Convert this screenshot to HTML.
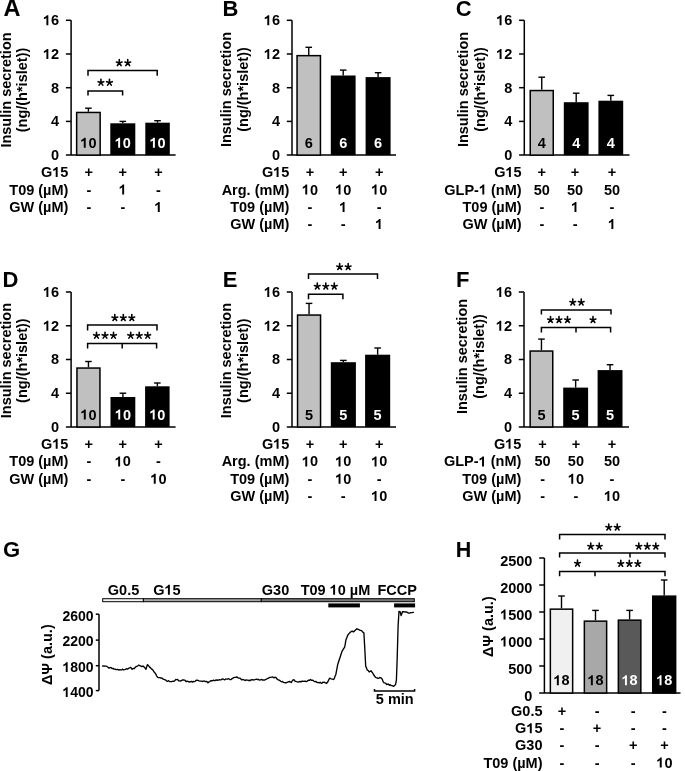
<!DOCTYPE html>
<html><head><meta charset="utf-8"><style>
html,body{margin:0;padding:0;background:#fff;}
svg{display:block;}
text{font-family:"Liberation Sans", sans-serif;font-weight:bold;font-kerning:none;white-space:pre;}
svg{-webkit-font-smoothing:antialiased;will-change:transform;}
</style></head><body>
<svg width="685" height="771" viewBox="0 0 685 771">
<rect x="0" y="0" width="685" height="771" fill="#fff"/>
<text x="3.40" y="16.00" font-size="23.5" text-anchor="start" fill="#000">A</text>
<text x="0.00" y="0.00" font-size="14.5" text-anchor="middle" fill="#000" transform="translate(11.00,90.00) rotate(-90)">Insulin secretion</text>
<text x="0.00" y="0.00" font-size="14.5" text-anchor="middle" fill="#000" transform="translate(26.80,90.00) rotate(-90)">(ng/(h*islet))</text>
<path d="M71.10,20.30 V155.10" stroke="#000" stroke-width="1.5" fill="none"/>
<line x1="65.90" y1="20.30" x2="71.10" y2="20.30" stroke="#000" stroke-width="1.5"/>
<path d="M759 0H485V1030Q410 960 310 910Q210 860 129 834V1080Q240 1116 370 1219Q500 1322 548 1409H759Z" fill="#000" transform="translate(42.97,25.20) scale(0.00708,-0.00708)"/>
<text x="51.04" y="25.20" font-size="14.5" fill="#000">6</text>
<line x1="65.90" y1="54.00" x2="71.10" y2="54.00" stroke="#000" stroke-width="1.5"/>
<path d="M759 0H485V1030Q410 960 310 910Q210 860 129 834V1080Q240 1116 370 1219Q500 1322 548 1409H759Z" fill="#000" transform="translate(42.97,58.90) scale(0.00708,-0.00708)"/>
<text x="51.04" y="58.90" font-size="14.5" fill="#000">2</text>
<line x1="65.90" y1="87.70" x2="71.10" y2="87.70" stroke="#000" stroke-width="1.5"/>
<text x="59.10" y="92.60" font-size="14.5" text-anchor="end" fill="#000">8</text>
<line x1="65.90" y1="121.40" x2="71.10" y2="121.40" stroke="#000" stroke-width="1.5"/>
<text x="59.10" y="126.30" font-size="14.5" text-anchor="end" fill="#000">4</text>
<text x="59.10" y="160.00" font-size="14.5" text-anchor="end" fill="#000">0</text>
<line x1="65.90" y1="155.10" x2="175.60" y2="155.10" stroke="#000" stroke-width="1.5"/>
<line x1="88.40" y1="111.70" x2="88.40" y2="108.20" stroke="#000" stroke-width="1.4"/>
<line x1="85.10" y1="108.20" x2="91.70" y2="108.20" stroke="#000" stroke-width="1.4"/>
<rect x="76.65" y="112.45" width="23.50" height="42.65" fill="#c0c0c0" stroke="#000" stroke-width="1.5"/>
<path d="M759 0H485V1030Q410 960 310 910Q210 860 129 834V1080Q240 1116 370 1219Q500 1322 548 1409H759Z" fill="#000" transform="translate(80.34,147.70) scale(0.00708,-0.00708)"/>
<text x="88.40" y="147.70" font-size="14.5" fill="#000">0</text>
<line x1="122.80" y1="123.30" x2="122.80" y2="121.40" stroke="#000" stroke-width="1.4"/>
<line x1="119.50" y1="121.40" x2="126.10" y2="121.40" stroke="#000" stroke-width="1.4"/>
<rect x="110.30" y="123.30" width="25.00" height="31.80" fill="#000"/>
<path d="M759 0H485V1030Q410 960 310 910Q210 860 129 834V1080Q240 1116 370 1219Q500 1322 548 1409H759Z" fill="#fff" transform="translate(114.74,147.70) scale(0.00708,-0.00708)"/>
<text x="122.80" y="147.70" font-size="14.5" fill="#fff">0</text>
<line x1="157.55" y1="122.70" x2="157.55" y2="120.70" stroke="#000" stroke-width="1.4"/>
<line x1="154.25" y1="120.70" x2="160.85" y2="120.70" stroke="#000" stroke-width="1.4"/>
<rect x="145.30" y="122.70" width="24.50" height="32.40" fill="#000"/>
<path d="M759 0H485V1030Q410 960 310 910Q210 860 129 834V1080Q240 1116 370 1219Q500 1322 548 1409H759Z" fill="#fff" transform="translate(149.49,147.70) scale(0.00708,-0.00708)"/>
<text x="157.55" y="147.70" font-size="14.5" fill="#fff">0</text>
<text x="40.99" y="177.00" font-size="14.5" fill="#000">G</text>
<path d="M759 0H485V1030Q410 960 310 910Q210 860 129 834V1080Q240 1116 370 1219Q500 1322 548 1409H759Z" fill="#000" transform="translate(52.27,177.00) scale(0.00708,-0.00708)"/>
<text x="60.34" y="177.00" font-size="14.5" fill="#000">5</text>
<text x="88.80" y="177.00" font-size="14.5" text-anchor="middle" fill="#000">+</text>
<text x="122.80" y="177.00" font-size="14.5" text-anchor="middle" fill="#000">+</text>
<text x="158.40" y="177.00" font-size="14.5" text-anchor="middle" fill="#000">+</text>
<text x="68.40" y="194.60" font-size="14.5" text-anchor="end" fill="#000">T09 (µM)</text>
<text x="88.80" y="194.60" font-size="14.5" text-anchor="middle" fill="#000">-</text>
<path d="M759 0H485V1030Q410 960 310 910Q210 860 129 834V1080Q240 1116 370 1219Q500 1322 548 1409H759Z" fill="#000" transform="translate(118.77,194.60) scale(0.00708,-0.00708)"/>
<text x="158.40" y="194.60" font-size="14.5" text-anchor="middle" fill="#000">-</text>
<text x="68.40" y="211.90" font-size="14.5" text-anchor="end" fill="#000">GW (µM)</text>
<text x="88.80" y="211.90" font-size="14.5" text-anchor="middle" fill="#000">-</text>
<text x="122.80" y="211.90" font-size="14.5" text-anchor="middle" fill="#000">-</text>
<path d="M759 0H485V1030Q410 960 310 910Q210 860 129 834V1080Q240 1116 370 1219Q500 1322 548 1409H759Z" fill="#000" transform="translate(154.37,211.90) scale(0.00708,-0.00708)"/>
<path d="M88.00,95.50 V90.90 H122.60 V95.50" stroke="#000" stroke-width="1.5" fill="none"/>
<path d="M100.95,82.60L100.95,79.25M100.95,82.60L98.14,81.69M100.95,82.60L99.10,85.15M100.95,82.60L102.80,85.15M100.95,82.60L103.76,81.69M109.45,82.60L109.45,79.25M109.45,82.60L106.64,81.69M109.45,82.60L107.60,85.15M109.45,82.60L111.30,85.15M109.45,82.60L112.26,81.69" stroke="#000" stroke-width="1.6" stroke-linecap="round" fill="none"/>
<path d="M88.00,75.70 V70.50 H157.20 V75.70" stroke="#000" stroke-width="1.5" fill="none"/>
<path d="M119.25,63.00L119.25,59.65M119.25,63.00L116.44,62.09M119.25,63.00L117.40,65.55M119.25,63.00L121.10,65.55M119.25,63.00L122.06,62.09M127.75,63.00L127.75,59.65M127.75,63.00L124.94,62.09M127.75,63.00L125.90,65.55M127.75,63.00L129.60,65.55M127.75,63.00L130.56,62.09" stroke="#000" stroke-width="1.6" stroke-linecap="round" fill="none"/>
<text x="222.60" y="16.20" font-size="22.0" text-anchor="start" fill="#000">B</text>
<text x="0.00" y="0.00" font-size="14.5" text-anchor="middle" fill="#000" transform="translate(231.00,89.50) rotate(-90)">Insulin secretion</text>
<text x="0.00" y="0.00" font-size="14.5" text-anchor="middle" fill="#000" transform="translate(247.70,89.50) rotate(-90)">(ng/(h*islet))</text>
<path d="M292.00,20.30 V155.10" stroke="#000" stroke-width="1.5" fill="none"/>
<line x1="286.80" y1="20.30" x2="292.00" y2="20.30" stroke="#000" stroke-width="1.5"/>
<path d="M759 0H485V1030Q410 960 310 910Q210 860 129 834V1080Q240 1116 370 1219Q500 1322 548 1409H759Z" fill="#000" transform="translate(263.87,25.20) scale(0.00708,-0.00708)"/>
<text x="271.94" y="25.20" font-size="14.5" fill="#000">6</text>
<line x1="286.80" y1="54.00" x2="292.00" y2="54.00" stroke="#000" stroke-width="1.5"/>
<path d="M759 0H485V1030Q410 960 310 910Q210 860 129 834V1080Q240 1116 370 1219Q500 1322 548 1409H759Z" fill="#000" transform="translate(263.87,58.90) scale(0.00708,-0.00708)"/>
<text x="271.94" y="58.90" font-size="14.5" fill="#000">2</text>
<line x1="286.80" y1="87.70" x2="292.00" y2="87.70" stroke="#000" stroke-width="1.5"/>
<text x="280.00" y="92.60" font-size="14.5" text-anchor="end" fill="#000">8</text>
<line x1="286.80" y1="121.40" x2="292.00" y2="121.40" stroke="#000" stroke-width="1.5"/>
<text x="280.00" y="126.30" font-size="14.5" text-anchor="end" fill="#000">4</text>
<text x="280.00" y="160.00" font-size="14.5" text-anchor="end" fill="#000">0</text>
<line x1="286.80" y1="155.10" x2="396.00" y2="155.10" stroke="#000" stroke-width="1.5"/>
<line x1="308.75" y1="54.90" x2="308.75" y2="47.30" stroke="#000" stroke-width="1.4"/>
<line x1="305.45" y1="47.30" x2="312.05" y2="47.30" stroke="#000" stroke-width="1.4"/>
<rect x="297.05" y="55.65" width="23.40" height="99.45" fill="#c0c0c0" stroke="#000" stroke-width="1.5"/>
<text x="308.75" y="147.70" font-size="14.5" text-anchor="middle" fill="#000">6</text>
<line x1="343.20" y1="75.50" x2="343.20" y2="70.10" stroke="#000" stroke-width="1.4"/>
<line x1="339.90" y1="70.10" x2="346.50" y2="70.10" stroke="#000" stroke-width="1.4"/>
<rect x="330.80" y="75.50" width="24.80" height="79.60" fill="#000"/>
<text x="343.20" y="147.70" font-size="14.5" text-anchor="middle" fill="#fff">6</text>
<line x1="378.10" y1="77.10" x2="378.10" y2="72.70" stroke="#000" stroke-width="1.4"/>
<line x1="374.80" y1="72.70" x2="381.40" y2="72.70" stroke="#000" stroke-width="1.4"/>
<rect x="365.60" y="77.10" width="25.00" height="78.00" fill="#000"/>
<text x="378.10" y="147.70" font-size="14.5" text-anchor="middle" fill="#fff">6</text>
<text x="261.89" y="177.00" font-size="14.5" fill="#000">G</text>
<path d="M759 0H485V1030Q410 960 310 910Q210 860 129 834V1080Q240 1116 370 1219Q500 1322 548 1409H759Z" fill="#000" transform="translate(273.17,177.00) scale(0.00708,-0.00708)"/>
<text x="281.24" y="177.00" font-size="14.5" fill="#000">5</text>
<text x="309.90" y="177.00" font-size="14.5" text-anchor="middle" fill="#000">+</text>
<text x="343.20" y="177.00" font-size="14.5" text-anchor="middle" fill="#000">+</text>
<text x="379.20" y="177.00" font-size="14.5" text-anchor="middle" fill="#000">+</text>
<text x="289.30" y="194.60" font-size="14.5" text-anchor="end" fill="#000">Arg. (mM)</text>
<path d="M759 0H485V1030Q410 960 310 910Q210 860 129 834V1080Q240 1116 370 1219Q500 1322 548 1409H759Z" fill="#000" transform="translate(301.84,194.60) scale(0.00708,-0.00708)"/>
<text x="309.90" y="194.60" font-size="14.5" fill="#000">0</text>
<path d="M759 0H485V1030Q410 960 310 910Q210 860 129 834V1080Q240 1116 370 1219Q500 1322 548 1409H759Z" fill="#000" transform="translate(335.14,194.60) scale(0.00708,-0.00708)"/>
<text x="343.20" y="194.60" font-size="14.5" fill="#000">0</text>
<path d="M759 0H485V1030Q410 960 310 910Q210 860 129 834V1080Q240 1116 370 1219Q500 1322 548 1409H759Z" fill="#000" transform="translate(371.14,194.60) scale(0.00708,-0.00708)"/>
<text x="379.20" y="194.60" font-size="14.5" fill="#000">0</text>
<text x="289.30" y="211.90" font-size="14.5" text-anchor="end" fill="#000">T09 (µM)</text>
<text x="309.90" y="211.90" font-size="14.5" text-anchor="middle" fill="#000">-</text>
<path d="M759 0H485V1030Q410 960 310 910Q210 860 129 834V1080Q240 1116 370 1219Q500 1322 548 1409H759Z" fill="#000" transform="translate(339.17,211.90) scale(0.00708,-0.00708)"/>
<text x="379.20" y="211.90" font-size="14.5" text-anchor="middle" fill="#000">-</text>
<text x="289.30" y="229.10" font-size="14.5" text-anchor="end" fill="#000">GW (µM)</text>
<text x="309.90" y="229.10" font-size="14.5" text-anchor="middle" fill="#000">-</text>
<text x="343.20" y="229.10" font-size="14.5" text-anchor="middle" fill="#000">-</text>
<path d="M759 0H485V1030Q410 960 310 910Q210 860 129 834V1080Q240 1116 370 1219Q500 1322 548 1409H759Z" fill="#000" transform="translate(375.17,229.10) scale(0.00708,-0.00708)"/>
<text x="455.80" y="16.00" font-size="22.0" text-anchor="start" fill="#000">C</text>
<text x="0.00" y="0.00" font-size="14.5" text-anchor="middle" fill="#000" transform="translate(467.70,89.50) rotate(-90)">Insulin secretion</text>
<text x="0.00" y="0.00" font-size="14.5" text-anchor="middle" fill="#000" transform="translate(485.10,89.50) rotate(-90)">(ng/(h*islet))</text>
<path d="M524.30,20.30 V155.10" stroke="#000" stroke-width="1.5" fill="none"/>
<line x1="519.10" y1="20.30" x2="524.30" y2="20.30" stroke="#000" stroke-width="1.5"/>
<path d="M759 0H485V1030Q410 960 310 910Q210 860 129 834V1080Q240 1116 370 1219Q500 1322 548 1409H759Z" fill="#000" transform="translate(496.17,25.20) scale(0.00708,-0.00708)"/>
<text x="504.24" y="25.20" font-size="14.5" fill="#000">6</text>
<line x1="519.10" y1="54.00" x2="524.30" y2="54.00" stroke="#000" stroke-width="1.5"/>
<path d="M759 0H485V1030Q410 960 310 910Q210 860 129 834V1080Q240 1116 370 1219Q500 1322 548 1409H759Z" fill="#000" transform="translate(496.17,58.90) scale(0.00708,-0.00708)"/>
<text x="504.24" y="58.90" font-size="14.5" fill="#000">2</text>
<line x1="519.10" y1="87.70" x2="524.30" y2="87.70" stroke="#000" stroke-width="1.5"/>
<text x="512.30" y="92.60" font-size="14.5" text-anchor="end" fill="#000">8</text>
<line x1="519.10" y1="121.40" x2="524.30" y2="121.40" stroke="#000" stroke-width="1.5"/>
<text x="512.30" y="126.30" font-size="14.5" text-anchor="end" fill="#000">4</text>
<text x="512.30" y="160.00" font-size="14.5" text-anchor="end" fill="#000">0</text>
<line x1="519.10" y1="155.10" x2="629.50" y2="155.10" stroke="#000" stroke-width="1.5"/>
<line x1="541.75" y1="89.80" x2="541.75" y2="77.20" stroke="#000" stroke-width="1.4"/>
<line x1="538.45" y1="77.20" x2="545.05" y2="77.20" stroke="#000" stroke-width="1.4"/>
<rect x="530.25" y="90.55" width="23.00" height="64.55" fill="#c0c0c0" stroke="#000" stroke-width="1.5"/>
<text x="541.75" y="147.70" font-size="14.5" text-anchor="middle" fill="#000">4</text>
<line x1="576.20" y1="102.20" x2="576.20" y2="93.20" stroke="#000" stroke-width="1.4"/>
<line x1="572.90" y1="93.20" x2="579.50" y2="93.20" stroke="#000" stroke-width="1.4"/>
<rect x="563.80" y="102.20" width="24.80" height="52.90" fill="#000"/>
<text x="576.20" y="147.70" font-size="14.5" text-anchor="middle" fill="#fff">4</text>
<line x1="610.80" y1="100.70" x2="610.80" y2="95.40" stroke="#000" stroke-width="1.4"/>
<line x1="607.50" y1="95.40" x2="614.10" y2="95.40" stroke="#000" stroke-width="1.4"/>
<rect x="598.40" y="100.70" width="24.80" height="54.40" fill="#000"/>
<text x="610.80" y="147.70" font-size="14.5" text-anchor="middle" fill="#fff">4</text>
<text x="494.19" y="177.00" font-size="14.5" fill="#000">G</text>
<path d="M759 0H485V1030Q410 960 310 910Q210 860 129 834V1080Q240 1116 370 1219Q500 1322 548 1409H759Z" fill="#000" transform="translate(505.47,177.00) scale(0.00708,-0.00708)"/>
<text x="513.54" y="177.00" font-size="14.5" fill="#000">5</text>
<text x="541.80" y="177.00" font-size="14.5" text-anchor="middle" fill="#000">+</text>
<text x="575.10" y="177.00" font-size="14.5" text-anchor="middle" fill="#000">+</text>
<text x="612.00" y="177.00" font-size="14.5" text-anchor="middle" fill="#000">+</text>
<text x="444.28" y="194.60" font-size="14.5" fill="#000">GLP-</text>
<path d="M759 0H485V1030Q410 960 310 910Q210 860 129 834V1080Q240 1116 370 1219Q500 1322 548 1409H759Z" fill="#000" transform="translate(478.91,194.60) scale(0.00708,-0.00708)"/>
<text x="486.98" y="194.60" font-size="14.5" fill="#000"> (nM)</text>
<text x="541.80" y="194.60" font-size="14.5" text-anchor="middle" fill="#000">50</text>
<text x="575.10" y="194.60" font-size="14.5" text-anchor="middle" fill="#000">50</text>
<text x="612.00" y="194.60" font-size="14.5" text-anchor="middle" fill="#000">50</text>
<text x="521.60" y="211.90" font-size="14.5" text-anchor="end" fill="#000">T09 (µM)</text>
<text x="541.80" y="211.90" font-size="14.5" text-anchor="middle" fill="#000">-</text>
<path d="M759 0H485V1030Q410 960 310 910Q210 860 129 834V1080Q240 1116 370 1219Q500 1322 548 1409H759Z" fill="#000" transform="translate(571.07,211.90) scale(0.00708,-0.00708)"/>
<text x="612.00" y="211.90" font-size="14.5" text-anchor="middle" fill="#000">-</text>
<text x="521.60" y="229.10" font-size="14.5" text-anchor="end" fill="#000">GW (µM)</text>
<text x="541.80" y="229.10" font-size="14.5" text-anchor="middle" fill="#000">-</text>
<text x="575.10" y="229.10" font-size="14.5" text-anchor="middle" fill="#000">-</text>
<path d="M759 0H485V1030Q410 960 310 910Q210 860 129 834V1080Q240 1116 370 1219Q500 1322 548 1409H759Z" fill="#000" transform="translate(607.97,229.10) scale(0.00708,-0.00708)"/>
<text x="2.60" y="287.00" font-size="22.0" text-anchor="start" fill="#000">D</text>
<text x="0.00" y="0.00" font-size="14.5" text-anchor="middle" fill="#000" transform="translate(10.90,360.60) rotate(-90)">Insulin secretion</text>
<text x="0.00" y="0.00" font-size="14.5" text-anchor="middle" fill="#000" transform="translate(26.80,360.60) rotate(-90)">(ng/(h*islet))</text>
<path d="M71.10,292.00 V427.00" stroke="#000" stroke-width="1.5" fill="none"/>
<line x1="65.90" y1="292.00" x2="71.10" y2="292.00" stroke="#000" stroke-width="1.5"/>
<path d="M759 0H485V1030Q410 960 310 910Q210 860 129 834V1080Q240 1116 370 1219Q500 1322 548 1409H759Z" fill="#000" transform="translate(42.97,296.90) scale(0.00708,-0.00708)"/>
<text x="51.04" y="296.90" font-size="14.5" fill="#000">6</text>
<line x1="65.90" y1="325.75" x2="71.10" y2="325.75" stroke="#000" stroke-width="1.5"/>
<path d="M759 0H485V1030Q410 960 310 910Q210 860 129 834V1080Q240 1116 370 1219Q500 1322 548 1409H759Z" fill="#000" transform="translate(42.97,330.65) scale(0.00708,-0.00708)"/>
<text x="51.04" y="330.65" font-size="14.5" fill="#000">2</text>
<line x1="65.90" y1="359.50" x2="71.10" y2="359.50" stroke="#000" stroke-width="1.5"/>
<text x="59.10" y="364.40" font-size="14.5" text-anchor="end" fill="#000">8</text>
<line x1="65.90" y1="393.25" x2="71.10" y2="393.25" stroke="#000" stroke-width="1.5"/>
<text x="59.10" y="398.15" font-size="14.5" text-anchor="end" fill="#000">4</text>
<text x="59.10" y="431.90" font-size="14.5" text-anchor="end" fill="#000">0</text>
<line x1="65.90" y1="427.00" x2="175.60" y2="427.00" stroke="#000" stroke-width="1.5"/>
<line x1="88.45" y1="367.30" x2="88.45" y2="361.50" stroke="#000" stroke-width="1.4"/>
<line x1="85.15" y1="361.50" x2="91.75" y2="361.50" stroke="#000" stroke-width="1.4"/>
<rect x="76.95" y="368.05" width="23.00" height="58.95" fill="#c0c0c0" stroke="#000" stroke-width="1.5"/>
<path d="M759 0H485V1030Q410 960 310 910Q210 860 129 834V1080Q240 1116 370 1219Q500 1322 548 1409H759Z" fill="#000" transform="translate(80.39,419.50) scale(0.00708,-0.00708)"/>
<text x="88.45" y="419.50" font-size="14.5" fill="#000">0</text>
<line x1="122.90" y1="397.00" x2="122.90" y2="393.20" stroke="#000" stroke-width="1.4"/>
<line x1="119.60" y1="393.20" x2="126.20" y2="393.20" stroke="#000" stroke-width="1.4"/>
<rect x="110.50" y="397.00" width="24.80" height="30.00" fill="#000"/>
<path d="M759 0H485V1030Q410 960 310 910Q210 860 129 834V1080Q240 1116 370 1219Q500 1322 548 1409H759Z" fill="#fff" transform="translate(114.84,419.50) scale(0.00708,-0.00708)"/>
<text x="122.90" y="419.50" font-size="14.5" fill="#fff">0</text>
<line x1="157.35" y1="386.30" x2="157.35" y2="383.00" stroke="#000" stroke-width="1.4"/>
<line x1="154.05" y1="383.00" x2="160.65" y2="383.00" stroke="#000" stroke-width="1.4"/>
<rect x="145.10" y="386.30" width="24.50" height="40.70" fill="#000"/>
<path d="M759 0H485V1030Q410 960 310 910Q210 860 129 834V1080Q240 1116 370 1219Q500 1322 548 1409H759Z" fill="#fff" transform="translate(149.29,419.50) scale(0.00708,-0.00708)"/>
<text x="157.35" y="419.50" font-size="14.5" fill="#fff">0</text>
<text x="40.99" y="448.80" font-size="14.5" fill="#000">G</text>
<path d="M759 0H485V1030Q410 960 310 910Q210 860 129 834V1080Q240 1116 370 1219Q500 1322 548 1409H759Z" fill="#000" transform="translate(52.27,448.80) scale(0.00708,-0.00708)"/>
<text x="60.34" y="448.80" font-size="14.5" fill="#000">5</text>
<text x="88.80" y="448.80" font-size="14.5" text-anchor="middle" fill="#000">+</text>
<text x="122.80" y="448.80" font-size="14.5" text-anchor="middle" fill="#000">+</text>
<text x="158.40" y="448.80" font-size="14.5" text-anchor="middle" fill="#000">+</text>
<text x="68.40" y="466.40" font-size="14.5" text-anchor="end" fill="#000">T09 (µM)</text>
<text x="88.80" y="466.40" font-size="14.5" text-anchor="middle" fill="#000">-</text>
<path d="M759 0H485V1030Q410 960 310 910Q210 860 129 834V1080Q240 1116 370 1219Q500 1322 548 1409H759Z" fill="#000" transform="translate(114.74,466.40) scale(0.00708,-0.00708)"/>
<text x="122.80" y="466.40" font-size="14.5" fill="#000">0</text>
<text x="158.40" y="466.40" font-size="14.5" text-anchor="middle" fill="#000">-</text>
<text x="68.40" y="483.70" font-size="14.5" text-anchor="end" fill="#000">GW (µM)</text>
<text x="88.80" y="483.70" font-size="14.5" text-anchor="middle" fill="#000">-</text>
<text x="122.80" y="483.70" font-size="14.5" text-anchor="middle" fill="#000">-</text>
<path d="M759 0H485V1030Q410 960 310 910Q210 860 129 834V1080Q240 1116 370 1219Q500 1322 548 1409H759Z" fill="#000" transform="translate(150.34,483.70) scale(0.00708,-0.00708)"/>
<text x="158.40" y="483.70" font-size="14.5" fill="#000">0</text>
<path d="M87.60,330.40 V325.00 H157.00 V330.40" stroke="#000" stroke-width="1.5" fill="none"/>
<path d="M114.80,317.90L114.80,314.55M114.80,317.90L111.99,316.99M114.80,317.90L112.95,320.45M114.80,317.90L116.65,320.45M114.80,317.90L117.61,316.99M123.30,317.90L123.30,314.55M123.30,317.90L120.49,316.99M123.30,317.90L121.45,320.45M123.30,317.90L125.15,320.45M123.30,317.90L126.11,316.99M131.80,317.90L131.80,314.55M131.80,317.90L128.99,316.99M131.80,317.90L129.95,320.45M131.80,317.90L133.65,320.45M131.80,317.90L134.61,316.99" stroke="#000" stroke-width="1.6" stroke-linecap="round" fill="none"/>
<path d="M87.60,348.50 V343.50 H156.60 V348.50 M122.20,343.50 V348.50" stroke="#000" stroke-width="1.5" fill="none"/>
<path d="M96.50,335.60L96.50,332.25M96.50,335.60L93.69,334.69M96.50,335.60L94.65,338.15M96.50,335.60L98.35,338.15M96.50,335.60L99.31,334.69M105.00,335.60L105.00,332.25M105.00,335.60L102.19,334.69M105.00,335.60L103.15,338.15M105.00,335.60L106.85,338.15M105.00,335.60L107.81,334.69M113.50,335.60L113.50,332.25M113.50,335.60L110.69,334.69M113.50,335.60L111.65,338.15M113.50,335.60L115.35,338.15M113.50,335.60L116.31,334.69" stroke="#000" stroke-width="1.6" stroke-linecap="round" fill="none"/>
<path d="M130.70,335.60L130.70,332.25M130.70,335.60L127.89,334.69M130.70,335.60L128.85,338.15M130.70,335.60L132.55,338.15M130.70,335.60L133.51,334.69M139.20,335.60L139.20,332.25M139.20,335.60L136.39,334.69M139.20,335.60L137.35,338.15M139.20,335.60L141.05,338.15M139.20,335.60L142.01,334.69M147.70,335.60L147.70,332.25M147.70,335.60L144.89,334.69M147.70,335.60L145.85,338.15M147.70,335.60L149.55,338.15M147.70,335.60L150.51,334.69" stroke="#000" stroke-width="1.6" stroke-linecap="round" fill="none"/>
<text x="222.80" y="287.00" font-size="22.0" text-anchor="start" fill="#000">E</text>
<text x="0.00" y="0.00" font-size="14.5" text-anchor="middle" fill="#000" transform="translate(231.00,360.60) rotate(-90)">Insulin secretion</text>
<text x="0.00" y="0.00" font-size="14.5" text-anchor="middle" fill="#000" transform="translate(247.70,360.60) rotate(-90)">(ng/(h*islet))</text>
<path d="M292.00,292.00 V427.00" stroke="#000" stroke-width="1.5" fill="none"/>
<line x1="286.80" y1="292.00" x2="292.00" y2="292.00" stroke="#000" stroke-width="1.5"/>
<path d="M759 0H485V1030Q410 960 310 910Q210 860 129 834V1080Q240 1116 370 1219Q500 1322 548 1409H759Z" fill="#000" transform="translate(263.87,296.90) scale(0.00708,-0.00708)"/>
<text x="271.94" y="296.90" font-size="14.5" fill="#000">6</text>
<line x1="286.80" y1="325.75" x2="292.00" y2="325.75" stroke="#000" stroke-width="1.5"/>
<path d="M759 0H485V1030Q410 960 310 910Q210 860 129 834V1080Q240 1116 370 1219Q500 1322 548 1409H759Z" fill="#000" transform="translate(263.87,330.65) scale(0.00708,-0.00708)"/>
<text x="271.94" y="330.65" font-size="14.5" fill="#000">2</text>
<line x1="286.80" y1="359.50" x2="292.00" y2="359.50" stroke="#000" stroke-width="1.5"/>
<text x="280.00" y="364.40" font-size="14.5" text-anchor="end" fill="#000">8</text>
<line x1="286.80" y1="393.25" x2="292.00" y2="393.25" stroke="#000" stroke-width="1.5"/>
<text x="280.00" y="398.15" font-size="14.5" text-anchor="end" fill="#000">4</text>
<text x="280.00" y="431.90" font-size="14.5" text-anchor="end" fill="#000">0</text>
<line x1="286.80" y1="427.00" x2="396.00" y2="427.00" stroke="#000" stroke-width="1.5"/>
<line x1="309.05" y1="314.30" x2="309.05" y2="303.40" stroke="#000" stroke-width="1.4"/>
<line x1="305.75" y1="303.40" x2="312.35" y2="303.40" stroke="#000" stroke-width="1.4"/>
<rect x="297.55" y="315.05" width="23.00" height="111.95" fill="#c0c0c0" stroke="#000" stroke-width="1.5"/>
<text x="309.05" y="419.50" font-size="14.5" text-anchor="middle" fill="#000">5</text>
<line x1="343.35" y1="362.20" x2="343.35" y2="360.40" stroke="#000" stroke-width="1.4"/>
<line x1="340.05" y1="360.40" x2="346.65" y2="360.40" stroke="#000" stroke-width="1.4"/>
<rect x="330.80" y="362.20" width="25.10" height="64.80" fill="#000"/>
<text x="343.35" y="419.50" font-size="14.5" text-anchor="middle" fill="#fff">5</text>
<line x1="377.65" y1="354.70" x2="377.65" y2="348.00" stroke="#000" stroke-width="1.4"/>
<line x1="374.35" y1="348.00" x2="380.95" y2="348.00" stroke="#000" stroke-width="1.4"/>
<rect x="365.10" y="354.70" width="25.10" height="72.30" fill="#000"/>
<text x="377.65" y="419.50" font-size="14.5" text-anchor="middle" fill="#fff">5</text>
<text x="261.89" y="448.80" font-size="14.5" fill="#000">G</text>
<path d="M759 0H485V1030Q410 960 310 910Q210 860 129 834V1080Q240 1116 370 1219Q500 1322 548 1409H759Z" fill="#000" transform="translate(273.17,448.80) scale(0.00708,-0.00708)"/>
<text x="281.24" y="448.80" font-size="14.5" fill="#000">5</text>
<text x="309.90" y="448.80" font-size="14.5" text-anchor="middle" fill="#000">+</text>
<text x="343.20" y="448.80" font-size="14.5" text-anchor="middle" fill="#000">+</text>
<text x="379.20" y="448.80" font-size="14.5" text-anchor="middle" fill="#000">+</text>
<text x="289.30" y="466.40" font-size="14.5" text-anchor="end" fill="#000">Arg. (mM)</text>
<path d="M759 0H485V1030Q410 960 310 910Q210 860 129 834V1080Q240 1116 370 1219Q500 1322 548 1409H759Z" fill="#000" transform="translate(301.84,466.40) scale(0.00708,-0.00708)"/>
<text x="309.90" y="466.40" font-size="14.5" fill="#000">0</text>
<path d="M759 0H485V1030Q410 960 310 910Q210 860 129 834V1080Q240 1116 370 1219Q500 1322 548 1409H759Z" fill="#000" transform="translate(335.14,466.40) scale(0.00708,-0.00708)"/>
<text x="343.20" y="466.40" font-size="14.5" fill="#000">0</text>
<path d="M759 0H485V1030Q410 960 310 910Q210 860 129 834V1080Q240 1116 370 1219Q500 1322 548 1409H759Z" fill="#000" transform="translate(371.14,466.40) scale(0.00708,-0.00708)"/>
<text x="379.20" y="466.40" font-size="14.5" fill="#000">0</text>
<text x="289.30" y="483.70" font-size="14.5" text-anchor="end" fill="#000">T09 (µM)</text>
<text x="309.90" y="483.70" font-size="14.5" text-anchor="middle" fill="#000">-</text>
<path d="M759 0H485V1030Q410 960 310 910Q210 860 129 834V1080Q240 1116 370 1219Q500 1322 548 1409H759Z" fill="#000" transform="translate(335.14,483.70) scale(0.00708,-0.00708)"/>
<text x="343.20" y="483.70" font-size="14.5" fill="#000">0</text>
<text x="379.20" y="483.70" font-size="14.5" text-anchor="middle" fill="#000">-</text>
<text x="289.30" y="500.90" font-size="14.5" text-anchor="end" fill="#000">GW (µM)</text>
<text x="309.90" y="500.90" font-size="14.5" text-anchor="middle" fill="#000">-</text>
<text x="343.20" y="500.90" font-size="14.5" text-anchor="middle" fill="#000">-</text>
<path d="M759 0H485V1030Q410 960 310 910Q210 860 129 834V1080Q240 1116 370 1219Q500 1322 548 1409H759Z" fill="#000" transform="translate(371.14,500.90) scale(0.00708,-0.00708)"/>
<text x="379.20" y="500.90" font-size="14.5" fill="#000">0</text>
<path d="M308.50,278.90 V274.00 H377.50 V278.90" stroke="#000" stroke-width="1.5" fill="none"/>
<path d="M339.65,266.90L339.65,263.55M339.65,266.90L336.84,265.99M339.65,266.90L337.80,269.45M339.65,266.90L341.50,269.45M339.65,266.90L342.46,265.99M348.15,266.90L348.15,263.55M348.15,266.90L345.34,265.99M348.15,266.90L346.30,269.45M348.15,266.90L350.00,269.45M348.15,266.90L350.96,265.99" stroke="#000" stroke-width="1.6" stroke-linecap="round" fill="none"/>
<path d="M308.50,299.30 V294.30 H342.90 V299.30" stroke="#000" stroke-width="1.5" fill="none"/>
<path d="M317.30,286.40L317.30,283.05M317.30,286.40L314.49,285.49M317.30,286.40L315.45,288.95M317.30,286.40L319.15,288.95M317.30,286.40L320.11,285.49M325.80,286.40L325.80,283.05M325.80,286.40L322.99,285.49M325.80,286.40L323.95,288.95M325.80,286.40L327.65,288.95M325.80,286.40L328.61,285.49M334.30,286.40L334.30,283.05M334.30,286.40L331.49,285.49M334.30,286.40L332.45,288.95M334.30,286.40L336.15,288.95M334.30,286.40L337.11,285.49" stroke="#000" stroke-width="1.6" stroke-linecap="round" fill="none"/>
<text x="455.90" y="287.00" font-size="22.0" text-anchor="start" fill="#000">F</text>
<text x="0.00" y="0.00" font-size="14.5" text-anchor="middle" fill="#000" transform="translate(467.30,356.50) rotate(-90)">Insulin secretion</text>
<text x="0.00" y="0.00" font-size="14.5" text-anchor="middle" fill="#000" transform="translate(484.20,356.50) rotate(-90)">(ng/(h*islet))</text>
<path d="M524.00,292.00 V427.00" stroke="#000" stroke-width="1.5" fill="none"/>
<line x1="518.80" y1="292.00" x2="524.00" y2="292.00" stroke="#000" stroke-width="1.5"/>
<path d="M759 0H485V1030Q410 960 310 910Q210 860 129 834V1080Q240 1116 370 1219Q500 1322 548 1409H759Z" fill="#000" transform="translate(495.87,296.90) scale(0.00708,-0.00708)"/>
<text x="503.94" y="296.90" font-size="14.5" fill="#000">6</text>
<line x1="518.80" y1="325.75" x2="524.00" y2="325.75" stroke="#000" stroke-width="1.5"/>
<path d="M759 0H485V1030Q410 960 310 910Q210 860 129 834V1080Q240 1116 370 1219Q500 1322 548 1409H759Z" fill="#000" transform="translate(495.87,330.65) scale(0.00708,-0.00708)"/>
<text x="503.94" y="330.65" font-size="14.5" fill="#000">2</text>
<line x1="518.80" y1="359.50" x2="524.00" y2="359.50" stroke="#000" stroke-width="1.5"/>
<text x="512.00" y="364.40" font-size="14.5" text-anchor="end" fill="#000">8</text>
<line x1="518.80" y1="393.25" x2="524.00" y2="393.25" stroke="#000" stroke-width="1.5"/>
<text x="512.00" y="398.15" font-size="14.5" text-anchor="end" fill="#000">4</text>
<text x="512.00" y="431.90" font-size="14.5" text-anchor="end" fill="#000">0</text>
<line x1="518.80" y1="427.00" x2="629.00" y2="427.00" stroke="#000" stroke-width="1.5"/>
<line x1="541.45" y1="350.30" x2="541.45" y2="339.10" stroke="#000" stroke-width="1.4"/>
<line x1="538.15" y1="339.10" x2="544.75" y2="339.10" stroke="#000" stroke-width="1.4"/>
<rect x="530.15" y="351.05" width="22.60" height="75.95" fill="#c0c0c0" stroke="#000" stroke-width="1.5"/>
<text x="541.45" y="419.50" font-size="14.5" text-anchor="middle" fill="#000">5</text>
<line x1="575.65" y1="387.60" x2="575.65" y2="380.00" stroke="#000" stroke-width="1.4"/>
<line x1="572.35" y1="380.00" x2="578.95" y2="380.00" stroke="#000" stroke-width="1.4"/>
<rect x="563.20" y="387.60" width="24.90" height="39.40" fill="#000"/>
<text x="575.65" y="419.50" font-size="14.5" text-anchor="middle" fill="#fff">5</text>
<line x1="610.05" y1="370.10" x2="610.05" y2="364.70" stroke="#000" stroke-width="1.4"/>
<line x1="606.75" y1="364.70" x2="613.35" y2="364.70" stroke="#000" stroke-width="1.4"/>
<rect x="597.60" y="370.10" width="24.90" height="56.90" fill="#000"/>
<text x="610.05" y="419.50" font-size="14.5" text-anchor="middle" fill="#fff">5</text>
<text x="493.89" y="448.80" font-size="14.5" fill="#000">G</text>
<path d="M759 0H485V1030Q410 960 310 910Q210 860 129 834V1080Q240 1116 370 1219Q500 1322 548 1409H759Z" fill="#000" transform="translate(505.17,448.80) scale(0.00708,-0.00708)"/>
<text x="513.24" y="448.80" font-size="14.5" fill="#000">5</text>
<text x="542.60" y="448.80" font-size="14.5" text-anchor="middle" fill="#000">+</text>
<text x="575.90" y="448.80" font-size="14.5" text-anchor="middle" fill="#000">+</text>
<text x="612.00" y="448.80" font-size="14.5" text-anchor="middle" fill="#000">+</text>
<text x="443.98" y="466.40" font-size="14.5" fill="#000">GLP-</text>
<path d="M759 0H485V1030Q410 960 310 910Q210 860 129 834V1080Q240 1116 370 1219Q500 1322 548 1409H759Z" fill="#000" transform="translate(478.61,466.40) scale(0.00708,-0.00708)"/>
<text x="486.68" y="466.40" font-size="14.5" fill="#000"> (nM)</text>
<text x="542.60" y="466.40" font-size="14.5" text-anchor="middle" fill="#000">50</text>
<text x="575.90" y="466.40" font-size="14.5" text-anchor="middle" fill="#000">50</text>
<text x="612.00" y="466.40" font-size="14.5" text-anchor="middle" fill="#000">50</text>
<text x="521.30" y="483.70" font-size="14.5" text-anchor="end" fill="#000">T09 (µM)</text>
<text x="542.60" y="483.70" font-size="14.5" text-anchor="middle" fill="#000">-</text>
<path d="M759 0H485V1030Q410 960 310 910Q210 860 129 834V1080Q240 1116 370 1219Q500 1322 548 1409H759Z" fill="#000" transform="translate(567.84,483.70) scale(0.00708,-0.00708)"/>
<text x="575.90" y="483.70" font-size="14.5" fill="#000">0</text>
<text x="612.00" y="483.70" font-size="14.5" text-anchor="middle" fill="#000">-</text>
<text x="521.30" y="500.90" font-size="14.5" text-anchor="end" fill="#000">GW (µM)</text>
<text x="542.60" y="500.90" font-size="14.5" text-anchor="middle" fill="#000">-</text>
<text x="575.90" y="500.90" font-size="14.5" text-anchor="middle" fill="#000">-</text>
<path d="M759 0H485V1030Q410 960 310 910Q210 860 129 834V1080Q240 1116 370 1219Q500 1322 548 1409H759Z" fill="#000" transform="translate(603.94,500.90) scale(0.00708,-0.00708)"/>
<text x="612.00" y="500.90" font-size="14.5" fill="#000">0</text>
<path d="M541.40,314.60 V310.00 H611.00 V314.60" stroke="#000" stroke-width="1.5" fill="none"/>
<path d="M572.75,302.40L572.75,299.05M572.75,302.40L569.94,301.49M572.75,302.40L570.90,304.95M572.75,302.40L574.60,304.95M572.75,302.40L575.56,301.49M581.25,302.40L581.25,299.05M581.25,302.40L578.44,301.49M581.25,302.40L579.40,304.95M581.25,302.40L583.10,304.95M581.25,302.40L584.06,301.49" stroke="#000" stroke-width="1.6" stroke-linecap="round" fill="none"/>
<path d="M541.40,332.40 V327.40 H610.60 V332.40 M576.00,327.40 V332.40" stroke="#000" stroke-width="1.5" fill="none"/>
<path d="M550.50,319.90L550.50,316.55M550.50,319.90L547.69,318.99M550.50,319.90L548.65,322.45M550.50,319.90L552.35,322.45M550.50,319.90L553.31,318.99M559.00,319.90L559.00,316.55M559.00,319.90L556.19,318.99M559.00,319.90L557.15,322.45M559.00,319.90L560.85,322.45M559.00,319.90L561.81,318.99M567.50,319.90L567.50,316.55M567.50,319.90L564.69,318.99M567.50,319.90L565.65,322.45M567.50,319.90L569.35,322.45M567.50,319.90L570.31,318.99" stroke="#000" stroke-width="1.6" stroke-linecap="round" fill="none"/>
<path d="M593.00,319.90L593.00,316.55M593.00,319.90L590.19,318.99M593.00,319.90L591.15,322.45M593.00,319.90L594.85,322.45M593.00,319.90L595.81,318.99" stroke="#000" stroke-width="1.6" stroke-linecap="round" fill="none"/>
<text x="3.10" y="556.90" font-size="22.0" text-anchor="start" fill="#000">G</text>
<path d="M99.00,614.2 V690.6" stroke="#000" stroke-width="1.5" fill="none"/>
<line x1="95.80" y1="614.20" x2="99.00" y2="614.20" stroke="#000" stroke-width="1.5"/>
<text x="93.60" y="620.50" font-size="14.0" text-anchor="end" fill="#000">2600</text>
<line x1="95.80" y1="640.10" x2="99.00" y2="640.10" stroke="#000" stroke-width="1.5"/>
<text x="93.60" y="646.40" font-size="14.0" text-anchor="end" fill="#000">2200</text>
<line x1="95.80" y1="665.70" x2="99.00" y2="665.70" stroke="#000" stroke-width="1.5"/>
<path d="M759 0H485V1030Q410 960 310 910Q210 860 129 834V1080Q240 1116 370 1219Q500 1322 548 1409H759Z" fill="#000" transform="translate(62.46,672.00) scale(0.00684,-0.00684)"/>
<text x="70.24" y="672.00" font-size="14.0" fill="#000">800</text>
<line x1="95.80" y1="690.60" x2="99.00" y2="690.60" stroke="#000" stroke-width="1.5"/>
<path d="M759 0H485V1030Q410 960 310 910Q210 860 129 834V1080Q240 1116 370 1219Q500 1322 548 1409H759Z" fill="#000" transform="translate(62.46,696.90) scale(0.00684,-0.00684)"/>
<text x="70.24" y="696.90" font-size="14.0" fill="#000">400</text>
<text x="0.00" y="0.00" font-size="14.5" text-anchor="middle" fill="#000" transform="translate(52.0,654.7) rotate(-90)">ΔΨ (a.u.)</text>
<rect x="102.70" y="598.70" width="40.70" height="3.00" fill="#f4f4f4" stroke="#000" stroke-width="1.0"/>
<rect x="143.40" y="598.70" width="117.90" height="3.00" fill="#a8a8a8" stroke="#000" stroke-width="1.0"/>
<rect x="261.30" y="598.70" width="153.00" height="3.00" fill="#787878" stroke="#000" stroke-width="1.0"/>
<rect x="328.30" y="603.40" width="31.60" height="4.00" fill="#000"/>
<rect x="394.10" y="603.40" width="21.00" height="4.00" fill="#000"/>
<text x="107.80" y="594.80" font-size="14.5" text-anchor="start" fill="#000">G0.5</text>
<text x="153.20" y="594.80" font-size="14.5" fill="#000">G</text>
<path d="M759 0H485V1030Q410 960 310 910Q210 860 129 834V1080Q240 1116 370 1219Q500 1322 548 1409H759Z" fill="#000" transform="translate(164.48,594.80) scale(0.00708,-0.00708)"/>
<text x="172.54" y="594.80" font-size="14.5" fill="#000">5</text>
<text x="261.80" y="594.80" font-size="14.5" text-anchor="start" fill="#000">G30</text>
<text x="300.70" y="594.80" font-size="14.5" fill="#000">T09 </text>
<path d="M759 0H485V1030Q410 960 310 910Q210 860 129 834V1080Q240 1116 370 1219Q500 1322 548 1409H759Z" fill="#000" transform="translate(329.71,594.80) scale(0.00708,-0.00708)"/>
<text x="337.78" y="594.80" font-size="14.5" fill="#000">0 µM</text>
<text x="377.50" y="594.80" font-size="14.5" text-anchor="start" fill="#000">FCCP</text>
<path d="M374.5,689.0 V690.9 H414.6 V689.0" stroke="#000" stroke-width="1.5" fill="none"/>
<text x="394.80" y="703.60" font-size="14.5" text-anchor="middle" fill="#000">5 min</text>
<path d="M102.20,665.74 L103.10,666.04 L104.00,665.87 L104.90,666.10 L105.80,666.13 L106.90,666.47 L108.00,667.31 L108.97,668.14 L109.93,667.56 L110.90,667.53 L112.00,668.60 L113.10,668.37 L114.10,669.14 L115.10,669.18 L116.10,669.74 L117.07,669.25 L118.03,669.73 L119.00,669.97 L119.97,669.62 L120.93,669.84 L121.90,669.77 L122.80,669.16 L123.70,669.86 L124.60,669.69 L125.50,669.40 L126.50,668.73 L127.50,669.17 L128.50,668.37 L129.60,667.92 L130.70,667.38 L131.40,668.16 L132.10,669.32 L133.20,668.54 L134.30,668.70 L135.40,667.14 L136.50,666.44 L137.60,666.13 L138.70,665.10 L139.80,665.59 L140.90,666.12 L142.00,666.67 L143.10,665.94 L143.80,666.83 L144.50,667.20 L145.25,668.36 L146.00,669.28 L146.70,666.87 L147.40,664.59 L148.50,665.68 L149.60,667.10 L150.60,667.85 L151.60,669.06 L152.60,669.67 L153.57,671.16 L154.53,672.57 L155.50,673.66 L156.60,675.81 L157.70,677.36 L158.80,677.65 L159.90,677.67 L160.87,678.15 L161.83,677.98 L162.80,678.93 L163.77,679.31 L164.73,679.65 L165.70,680.06 L166.67,681.02 L167.63,681.32 L168.60,680.59 L169.57,681.63 L170.53,681.58 L171.50,681.65 L172.60,681.29 L173.70,681.27 L174.67,680.87 L175.63,679.54 L176.60,679.61 L177.60,679.54 L178.60,680.72 L179.60,680.83 L180.50,681.01 L181.40,680.73 L182.30,679.88 L183.20,680.00 L184.17,680.01 L185.13,680.48 L186.10,681.70 L186.98,681.21 L187.86,681.46 L188.74,681.75 L189.62,682.03 L190.50,681.66 L191.47,681.41 L192.43,682.10 L193.40,681.41 L194.32,681.68 L195.25,681.25 L196.18,680.35 L197.10,680.06 L198.07,680.42 L199.03,680.84 L200.00,681.10 L200.88,681.08 L201.76,681.16 L202.64,681.50 L203.52,681.09 L204.40,681.03 L205.30,681.60 L206.20,681.39 L207.10,681.73 L208.00,682.68 L208.93,681.87 L209.85,681.55 L210.77,680.66 L211.70,680.72 L212.58,680.78 L213.46,680.12 L214.34,680.62 L215.22,680.53 L216.10,679.86 L216.96,680.29 L217.82,679.99 L218.68,680.06 L219.54,679.59 L220.40,679.81 L221.28,679.78 L222.16,679.00 L223.04,678.98 L223.92,679.54 L224.80,679.76 L225.73,678.95 L226.65,679.06 L227.57,679.09 L228.50,678.72 L229.60,679.26 L230.70,679.71 L231.75,678.87 L232.80,678.20 L233.80,677.57 L234.80,677.31 L235.80,677.37 L236.77,676.86 L237.73,677.64 L238.70,678.04 L239.67,678.21 L240.63,678.72 L241.60,679.90 L242.53,679.51 L243.45,679.64 L244.38,680.06 L245.30,680.50 L246.16,679.90 L247.02,680.12 L247.88,680.13 L248.74,680.63 L249.60,680.24 L250.48,680.52 L251.36,679.69 L252.24,679.72 L253.12,679.89 L254.00,679.98 L254.88,679.55 L255.76,679.33 L256.64,679.22 L257.52,679.63 L258.40,679.29 L259.28,679.97 L260.16,680.06 L261.04,679.46 L261.92,679.62 L262.80,680.21 L263.70,679.97 L264.60,680.06 L265.50,679.52 L266.40,679.23 L267.50,678.49 L268.60,678.09 L269.53,677.40 L270.45,677.30 L271.38,677.19 L272.30,677.02 L273.20,677.18 L274.10,677.87 L275.00,677.28 L275.90,677.30 L276.82,678.87 L277.75,679.43 L278.68,680.16 L279.60,680.23 L280.57,681.25 L281.53,681.73 L282.50,681.52 L283.40,682.30 L284.30,682.64 L285.20,682.71 L286.10,682.82 L287.10,682.26 L288.10,681.97 L289.10,681.53 L290.15,681.72 L291.20,682.52 L292.15,681.01 L293.10,679.91 L293.93,679.65 L294.77,681.00 L295.60,681.29 L296.48,681.68 L297.36,681.82 L298.24,681.98 L299.12,681.82 L300.00,681.41 L300.88,681.97 L301.75,681.22 L302.62,681.17 L303.50,681.36 L304.38,681.22 L305.25,681.11 L306.12,681.64 L307.00,681.31 L307.88,680.62 L308.75,680.10 L309.62,680.29 L310.50,679.48 L311.38,680.21 L312.25,680.20 L313.12,680.47 L314.00,681.23 L314.88,681.74 L315.75,681.32 L316.62,682.17 L317.50,682.52 L318.38,682.63 L319.25,682.87 L320.12,682.28 L321.00,683.13 L321.88,683.21 L322.75,682.25 L323.62,682.32 L324.50,682.17 L325.55,682.98 L326.60,683.48 L327.30,682.34 L328.00,681.48 L328.90,679.40 L329.80,678.15 L330.67,678.53 L331.53,678.82 L332.40,679.07 L333.30,679.52 L334.20,678.67 L335.05,676.32 L335.90,674.20 L336.80,669.36 L337.70,664.56 L338.55,661.92 L339.40,659.33 L340.27,656.68 L341.13,654.01 L342.00,651.34 L342.90,649.90 L343.80,648.39 L344.70,647.01 L345.90,640.04 L346.80,637.83 L347.70,635.28 L348.80,633.88 L349.90,632.57 L350.80,631.90 L351.70,631.18 L352.55,631.13 L353.40,631.90 L354.30,631.12 L355.20,630.33 L356.05,629.42 L356.90,628.70 L357.80,629.30 L358.70,629.42 L359.60,630.09 L360.47,630.33 L361.33,630.58 L362.20,631.34 L363.05,632.35 L363.90,632.91 L364.80,648.78 L365.70,666.29 L366.55,668.13 L367.40,670.24 L368.30,670.57 L369.20,672.00 L370.10,671.44 L371.00,670.65 L371.85,671.99 L372.70,672.92 L373.57,674.78 L374.43,675.80 L375.30,677.19 L376.20,677.56 L377.10,677.90 L378.00,678.43 L378.87,678.10 L379.73,677.47 L380.60,677.79 L381.45,678.10 L382.30,679.43 L383.00,681.30 L383.70,682.54 L384.75,682.99 L385.80,683.40 L386.70,684.48 L387.60,684.08 L388.50,684.22 L389.37,685.21 L390.23,684.65 L391.10,685.54 L391.97,685.61 L392.83,686.00 L393.70,686.35 L394.60,685.38 L395.50,684.76 L396.40,680.21 L397.20,657.65 L398.10,626.00 L399.00,611.32 L400.20,611.92 L401.10,615.55 L401.80,613.84 L402.50,611.56 L403.37,611.72 L404.23,611.86 L405.10,612.03 L405.97,611.84 L406.83,612.18 L407.70,612.65 L408.60,613.02 L409.50,613.15 L410.40,612.79 L411.27,612.64 L412.15,612.55 L413.02,612.38 L413.90,612.32" stroke="#000" stroke-width="1.35" fill="none" stroke-linejoin="round"/>
<text x="455.70" y="557.10" font-size="21.5" text-anchor="start" fill="#000">H</text>
<path d="M544.40,558.00 V693.00" stroke="#000" stroke-width="1.5" fill="none"/>
<line x1="539.20" y1="558.00" x2="544.40" y2="558.00" stroke="#000" stroke-width="1.5"/>
<text x="532.40" y="565.60" font-size="14.5" text-anchor="end" fill="#000">2500</text>
<line x1="539.20" y1="585.00" x2="544.40" y2="585.00" stroke="#000" stroke-width="1.5"/>
<text x="532.40" y="592.60" font-size="14.5" text-anchor="end" fill="#000">2000</text>
<line x1="539.20" y1="612.00" x2="544.40" y2="612.00" stroke="#000" stroke-width="1.5"/>
<path d="M759 0H485V1030Q410 960 310 910Q210 860 129 834V1080Q240 1116 370 1219Q500 1322 548 1409H759Z" fill="#000" transform="translate(500.14,619.60) scale(0.00708,-0.00708)"/>
<text x="508.21" y="619.60" font-size="14.5" fill="#000">500</text>
<line x1="539.20" y1="639.00" x2="544.40" y2="639.00" stroke="#000" stroke-width="1.5"/>
<path d="M759 0H485V1030Q410 960 310 910Q210 860 129 834V1080Q240 1116 370 1219Q500 1322 548 1409H759Z" fill="#000" transform="translate(500.14,646.60) scale(0.00708,-0.00708)"/>
<text x="508.21" y="646.60" font-size="14.5" fill="#000">000</text>
<line x1="539.20" y1="666.00" x2="544.40" y2="666.00" stroke="#000" stroke-width="1.5"/>
<text x="532.40" y="673.60" font-size="14.5" text-anchor="end" fill="#000">500</text>
<text x="532.40" y="700.60" font-size="14.5" text-anchor="end" fill="#000">0</text>
<line x1="539.20" y1="693.00" x2="680.50" y2="693.00" stroke="#000" stroke-width="1.5"/>
<text x="0.00" y="0.00" font-size="14.5" text-anchor="middle" fill="#000" transform="translate(492.5,626.7) rotate(-90)">ΔΨ (a.u.)</text>
<line x1="561.50" y1="608.40" x2="561.50" y2="596.00" stroke="#000" stroke-width="1.4"/>
<line x1="558.20" y1="596.00" x2="564.80" y2="596.00" stroke="#000" stroke-width="1.4"/>
<rect x="550.35" y="609.15" width="22.30" height="83.85" fill="#f0f0f0" stroke="#000" stroke-width="1.5"/>
<path d="M759 0H485V1030Q410 960 310 910Q210 860 129 834V1080Q240 1116 370 1219Q500 1322 548 1409H759Z" fill="#000" transform="translate(553.44,685.30) scale(0.00708,-0.00708)"/>
<text x="561.50" y="685.30" font-size="14.5" fill="#000">8</text>
<line x1="595.50" y1="620.40" x2="595.50" y2="610.40" stroke="#000" stroke-width="1.4"/>
<line x1="592.20" y1="610.40" x2="598.80" y2="610.40" stroke="#000" stroke-width="1.4"/>
<rect x="584.35" y="621.15" width="22.30" height="71.85" fill="#a8a8a8" stroke="#000" stroke-width="1.5"/>
<path d="M759 0H485V1030Q410 960 310 910Q210 860 129 834V1080Q240 1116 370 1219Q500 1322 548 1409H759Z" fill="#000" transform="translate(587.44,685.30) scale(0.00708,-0.00708)"/>
<text x="595.50" y="685.30" font-size="14.5" fill="#000">8</text>
<line x1="629.60" y1="619.40" x2="629.60" y2="610.40" stroke="#000" stroke-width="1.4"/>
<line x1="626.30" y1="610.40" x2="632.90" y2="610.40" stroke="#000" stroke-width="1.4"/>
<rect x="618.35" y="620.15" width="22.50" height="72.85" fill="#595959" stroke="#000" stroke-width="1.5"/>
<path d="M759 0H485V1030Q410 960 310 910Q210 860 129 834V1080Q240 1116 370 1219Q500 1322 548 1409H759Z" fill="#fff" transform="translate(621.54,685.30) scale(0.00708,-0.00708)"/>
<text x="629.60" y="685.30" font-size="14.5" fill="#fff">8</text>
<line x1="664.20" y1="595.40" x2="664.20" y2="580.00" stroke="#000" stroke-width="1.4"/>
<line x1="660.90" y1="580.00" x2="667.50" y2="580.00" stroke="#000" stroke-width="1.4"/>
<rect x="652.75" y="596.15" width="22.90" height="96.85" fill="#000" stroke="#000" stroke-width="1.5"/>
<path d="M759 0H485V1030Q410 960 310 910Q210 860 129 834V1080Q240 1116 370 1219Q500 1322 548 1409H759Z" fill="#fff" transform="translate(656.14,685.30) scale(0.00708,-0.00708)"/>
<text x="664.20" y="685.30" font-size="14.5" fill="#fff">8</text>
<text x="542.50" y="716.10" font-size="14.5" text-anchor="end" fill="#000">G0.5</text>
<text x="562.00" y="716.10" font-size="14.5" text-anchor="middle" fill="#000">+</text>
<text x="597.10" y="716.10" font-size="14.5" text-anchor="middle" fill="#000">-</text>
<text x="633.20" y="716.10" font-size="14.5" text-anchor="middle" fill="#000">-</text>
<text x="664.40" y="716.10" font-size="14.5" text-anchor="middle" fill="#000">-</text>
<text x="515.09" y="733.20" font-size="14.5" fill="#000">G</text>
<path d="M759 0H485V1030Q410 960 310 910Q210 860 129 834V1080Q240 1116 370 1219Q500 1322 548 1409H759Z" fill="#000" transform="translate(526.37,733.20) scale(0.00708,-0.00708)"/>
<text x="534.44" y="733.20" font-size="14.5" fill="#000">5</text>
<text x="562.00" y="733.20" font-size="14.5" text-anchor="middle" fill="#000">-</text>
<text x="597.10" y="733.20" font-size="14.5" text-anchor="middle" fill="#000">+</text>
<text x="633.20" y="733.20" font-size="14.5" text-anchor="middle" fill="#000">-</text>
<text x="664.40" y="733.20" font-size="14.5" text-anchor="middle" fill="#000">-</text>
<text x="542.50" y="750.30" font-size="14.5" text-anchor="end" fill="#000">G30</text>
<text x="562.00" y="750.30" font-size="14.5" text-anchor="middle" fill="#000">-</text>
<text x="597.10" y="750.30" font-size="14.5" text-anchor="middle" fill="#000">-</text>
<text x="633.20" y="750.30" font-size="14.5" text-anchor="middle" fill="#000">+</text>
<text x="664.40" y="750.30" font-size="14.5" text-anchor="middle" fill="#000">+</text>
<text x="542.50" y="767.60" font-size="14.5" text-anchor="end" fill="#000">T09 (µM)</text>
<text x="562.00" y="767.60" font-size="14.5" text-anchor="middle" fill="#000">-</text>
<text x="597.10" y="767.60" font-size="14.5" text-anchor="middle" fill="#000">-</text>
<text x="633.20" y="767.60" font-size="14.5" text-anchor="middle" fill="#000">-</text>
<path d="M759 0H485V1030Q410 960 310 910Q210 860 129 834V1080Q240 1116 370 1219Q500 1322 548 1409H759Z" fill="#000" transform="translate(656.34,767.60) scale(0.00708,-0.00708)"/>
<text x="664.40" y="767.60" font-size="14.5" fill="#000">0</text>
<path d="M559.60,539.40 V534.40 H665.00 V539.40" stroke="#000" stroke-width="1.5" fill="none"/>
<path d="M608.75,527.40L608.75,524.05M608.75,527.40L605.94,526.49M608.75,527.40L606.90,529.95M608.75,527.40L610.60,529.95M608.75,527.40L611.56,526.49M617.25,527.40L617.25,524.05M617.25,527.40L614.44,526.49M617.25,527.40L615.40,529.95M617.25,527.40L619.10,529.95M617.25,527.40L620.06,526.49" stroke="#000" stroke-width="1.6" stroke-linecap="round" fill="none"/>
<path d="M559.60,557.60 V553.00 H665.00 V557.60 M630.00,553.00 V557.60" stroke="#000" stroke-width="1.5" fill="none"/>
<path d="M590.75,546.40L590.75,543.05M590.75,546.40L587.94,545.49M590.75,546.40L588.90,548.95M590.75,546.40L592.60,548.95M590.75,546.40L593.56,545.49M599.25,546.40L599.25,543.05M599.25,546.40L596.44,545.49M599.25,546.40L597.40,548.95M599.25,546.40L601.10,548.95M599.25,546.40L602.06,545.49" stroke="#000" stroke-width="1.6" stroke-linecap="round" fill="none"/>
<path d="M638.80,546.40L638.80,543.05M638.80,546.40L635.99,545.49M638.80,546.40L636.95,548.95M638.80,546.40L640.65,548.95M638.80,546.40L641.61,545.49M647.30,546.40L647.30,543.05M647.30,546.40L644.49,545.49M647.30,546.40L645.45,548.95M647.30,546.40L649.15,548.95M647.30,546.40L650.11,545.49M655.80,546.40L655.80,543.05M655.80,546.40L652.99,545.49M655.80,546.40L653.95,548.95M655.80,546.40L657.65,548.95M655.80,546.40L658.61,545.49" stroke="#000" stroke-width="1.6" stroke-linecap="round" fill="none"/>
<path d="M559.60,576.20 V571.60 H665.00 V576.20 M595.00,571.60 V576.20" stroke="#000" stroke-width="1.5" fill="none"/>
<path d="M577.50,563.50L577.50,560.15M577.50,563.50L574.69,562.59M577.50,563.50L575.65,566.05M577.50,563.50L579.35,566.05M577.50,563.50L580.31,562.59" stroke="#000" stroke-width="1.6" stroke-linecap="round" fill="none"/>
<path d="M620.80,563.70L620.80,560.35M620.80,563.70L617.99,562.79M620.80,563.70L618.95,566.25M620.80,563.70L622.65,566.25M620.80,563.70L623.61,562.79M629.30,563.70L629.30,560.35M629.30,563.70L626.49,562.79M629.30,563.70L627.45,566.25M629.30,563.70L631.15,566.25M629.30,563.70L632.11,562.79M637.80,563.70L637.80,560.35M637.80,563.70L634.99,562.79M637.80,563.70L635.95,566.25M637.80,563.70L639.65,566.25M637.80,563.70L640.61,562.79" stroke="#000" stroke-width="1.6" stroke-linecap="round" fill="none"/>
</svg>
</body></html>
